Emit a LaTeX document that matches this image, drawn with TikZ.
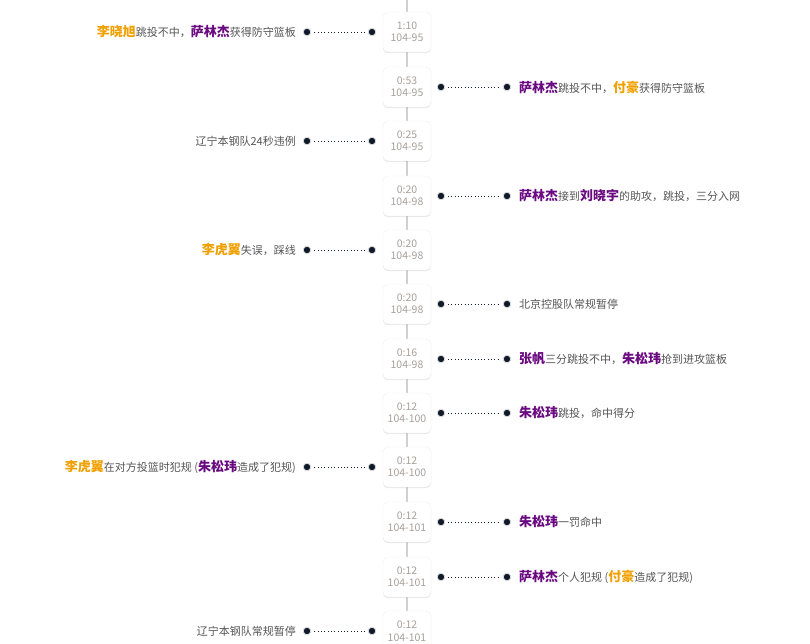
\documentclass[tikz,border=0pt]{standalone}
\usepackage{fontspec}
\setmainfont{Noto Sans CJK SC}
\usetikzlibrary{shadows}
\definecolor{linecolor}{HTML}{D0D0D0}
\definecolor{timecolor}{HTML}{A8A09A}
\definecolor{orangename}{HTML}{F0A000}
\definecolor{purplename}{HTML}{6A0A80}
\definecolor{textcolor}{HTML}{555555}
\definecolor{dotcolor}{HTML}{0F1A2A}
\newcommand{\ora}[1]{{\fontsize{13}{15}\selectfont\bfseries\color{orangename}#1}}
\newcommand{\pur}[1]{{\fontsize{13}{15}\selectfont\bfseries\color{purplename}#1}}
\tikzset{
  timebox/.style={draw=black!6,fill=white,rounded corners=5pt,minimum width=48pt,minimum height=40pt,
    align=center,inner sep=1pt,font=\fontsize{10.5}{12.5}\selectfont,text=timecolor,
    drop shadow={shadow xshift=0pt,shadow yshift=-1.2pt,opacity=0.18}},
  dotnode/.style={circle,fill=dotcolor,draw=black!15,line width=0.8pt,inner sep=0pt,minimum size=7.5pt},
  eventtext/.style={font=\fontsize{11}{13}\selectfont,text=textcolor,inner sep=0pt},
}
\begin{document}
\begin{tikzpicture}[x=1pt,y=-1pt]
\useasboundingbox (0,0) rectangle (810,644);
\fill[white] (0,0) rectangle (810,644);
\draw[linecolor,line width=1.8pt] (407,0) -- (407,644);
\node[timebox] (t0) at (407,-22) {~\\~};
% rows: index/y/time/score/side
\foreach \i/\y/\t/\s/\side in {1/32/1:10/104-95/l, 2/87/0:53/104-95/r, 3/141/0:25/104-95/l, 4/196/0:20/104-98/r,
  5/250/0:20/104-98/l, 6/304/0:20/104-98/r, 7/359/0:16/104-98/r, 8/413/0:12/104-100/r,
  9/467/0:12/104-100/l, 10/522/0:12/104-101/r, 11/577/0:12/104-101/r, 12/631/0:12/104-101/l}{
  \node[timebox] (t\i) at (407,\y) {\t\\\s};
  \if\side l
    \node[dotnode] (a\i) at (372,\y) {};
    \node[dotnode] (b\i) at (307,\y) {};
    \coordinate (e\i) at (296,\y);
  \else
    \node[dotnode] (a\i) at (441,\y) {};
    \node[dotnode] (b\i) at (507,\y) {};
    \coordinate (e\i) at (519,\y);
  \fi
  \draw[dotcolor,line width=0.9pt,dash pattern=on 0.9pt off 2.4pt,shorten <=3pt,shorten >=3pt] (a\i) -- (b\i);
}
\node[eventtext,anchor=east] at (e1) {\ora{李晓旭}跳投不中，\pur{萨林杰}获得防守篮板};
\node[eventtext,anchor=west] at (e2) {\pur{萨林杰}跳投不中，\ora{付豪}获得防守篮板};
\node[eventtext,anchor=east] at (e3) {辽宁本钢队24秒违例};
\node[eventtext,anchor=west] at (e4) {\pur{萨林杰}接到\pur{刘晓宇}的助攻，跳投，三分入网};
\node[eventtext,anchor=east] at (e5) {\ora{李虎翼}失误，踩线};
\node[eventtext,anchor=west] at (e6) {北京控股队常规暂停};
\node[eventtext,anchor=west] at (e7) {\pur{张帆}三分跳投不中，\pur{朱松玮}抢到进攻篮板};
\node[eventtext,anchor=west] at (e8) {\pur{朱松玮}跳投，命中得分};
\node[eventtext,anchor=east] at (e9) {\ora{李虎翼}在对方投篮时犯规 (\pur{朱松玮}造成了犯规)};
\node[eventtext,anchor=west] at (e10) {\pur{朱松玮}一罚命中};
\node[eventtext,anchor=west] at (e11) {\pur{萨林杰}个人犯规 (\ora{付豪}造成了犯规)};
\node[eventtext,anchor=east] at (e12) {辽宁本钢队常规暂停};
\end{tikzpicture}
\end{document}
